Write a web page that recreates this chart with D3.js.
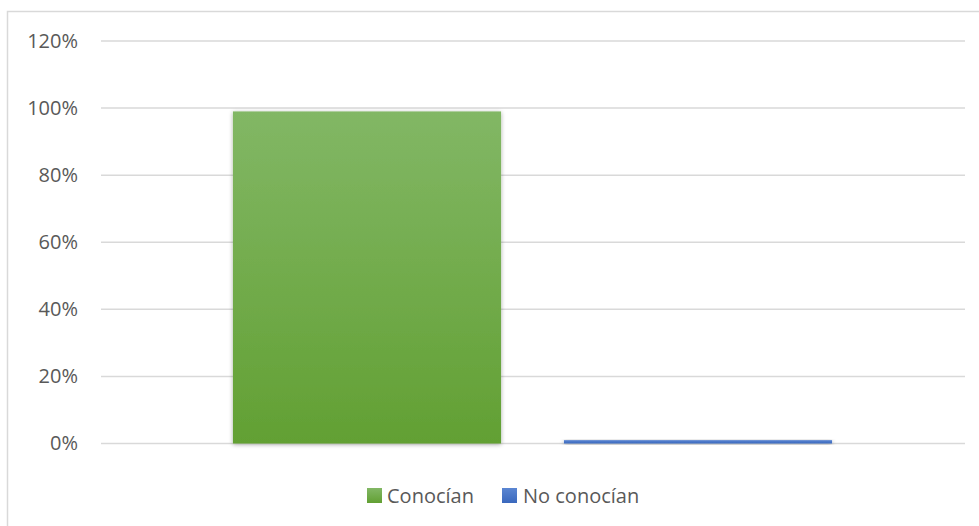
<!DOCTYPE html>
<html><head><meta charset="utf-8">
<script src="https://d3js.org/d3.v7.min.js"></script>
<style>body{margin:0;background:#fff;}svg{display:block;}</style>
</head><body>
<script>
const categories = ["Conocían", "No conocían"];
const values = [0.99, 0.01];
const tickValues = [0, 0.2, 0.4, 0.6, 0.8, 1.0, 1.2];
const colors = ["#70ad47", "#4472c4"];

const W = 979, H = 526;
const svg = d3.select("body").append("svg").attr("width", W).attr("height", H);
const defs = svg.append("defs");

// gradients
const g1 = defs.append("linearGradient").attr("id","gG").attr("x1",0).attr("y1",0).attr("x2",0).attr("y2",1);
g1.append("stop").attr("offset","0%").attr("stop-color","#82b765");
g1.append("stop").attr("offset","100%").attr("stop-color","#62a033");
const g2 = defs.append("linearGradient").attr("id","gB").attr("x1",0).attr("y1",0).attr("x2",0).attr("y2",1);
g2.append("stop").attr("offset","0%").attr("stop-color","#5b86d2");
g2.append("stop").attr("offset","100%").attr("stop-color","#3a68bd");
const f = defs.append("filter").attr("id","sh").attr("x","-10%").attr("y","-10%").attr("width","120%").attr("height","130%");
f.append("feDropShadow").attr("dx",0).attr("dy",1).attr("stdDeviation",2).attr("flood-color","#000").attr("flood-opacity",0.35);

// chart border
svg.append("rect").attr("x",7.5).attr("y",11.5).attr("width",W).attr("height",H)
  .attr("fill","none").attr("stroke","#d9d9d9").attr("stroke-width",1.5);

const y = d3.scaleLinear().domain([0, 1.2]).range([443.5, 41]);
const x = d3.scaleBand().domain(categories).range([201.5, 863.5]).paddingInner(0.19).paddingOuter(0.095);
const gridX0 = 101, gridX1 = 965;

// gridlines
svg.append("g").selectAll("line").data(tickValues).join("line")
  .attr("x1", gridX0).attr("x2", gridX1)
  .attr("y1", d => y(d)).attr("y2", d => y(d))
  .attr("stroke", "#d9d9d9").attr("stroke-width", 1.5);

// y axis labels
const yAxis = d3.axisLeft(y).tickValues(tickValues).tickFormat(d3.format(".0%")).tickSize(0).tickPadding(0);
const ga = svg.append("g").attr("transform", "translate(78,0)").call(yAxis);
ga.select(".domain").remove();
ga.selectAll("text").attr("font-family","'Open Sans', sans-serif").attr("font-size","20px").attr("fill","#595959");

// bars
svg.append("g").selectAll("rect").data(values).join("rect")
  .attr("x", (d,i) => x(categories[i]))
  .attr("width", x.bandwidth())
  .attr("y", d => y(d))
  .attr("height", d => y(0) - y(d))
  .attr("fill", (d,i) => i === 0 ? "url(#gG)" : "url(#gB)")
  .attr("filter","url(#sh)");

// legend
const legendItems = [{x:367, tx:387}, {x:502, tx:523}];
const lg = svg.append("g");
categories.forEach((c,i) => {
  lg.append("rect").attr("x", legendItems[i].x).attr("y", 488).attr("width", 15).attr("height", 15)
    .attr("fill", i === 0 ? "url(#gG)" : "url(#gB)");
  lg.append("text").attr("x", legendItems[i].tx).attr("y", 503)
    .attr("font-family","'Open Sans', sans-serif").attr("font-size","20px").attr("fill","#595959")
    .text(c);
});
</script>
</body></html>
